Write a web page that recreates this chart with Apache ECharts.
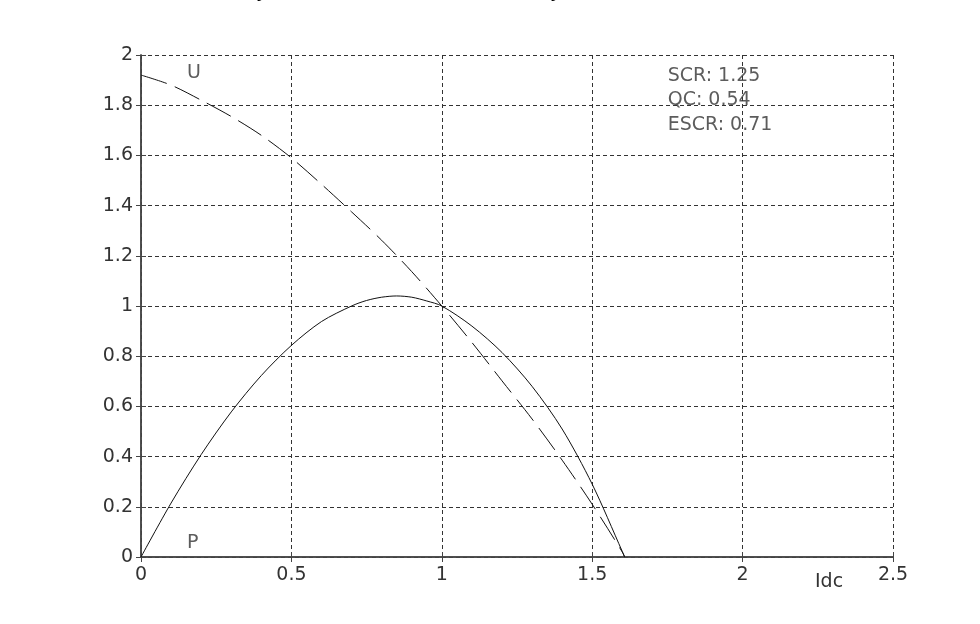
<!DOCTYPE html>
<html><head><meta charset="utf-8">
<script src="https://cdn.jsdelivr.net/npm/echarts@6/dist/echarts.min.js"></script>
<style>html,body{margin:0;padding:0;background:#fff}#c{width:980px;height:624px}</style>
</head><body><div id="c"></div>
<script>
// Data
var xTicks = [0, 0.5, 1, 1.5, 2, 2.5];
var yTicks = [0, 0.2, 0.4, 0.6, 0.8, 1, 1.2, 1.4, 1.6, 1.8, 2];
var uIdc = [0, 0.1, 0.2, 0.3, 0.4, 0.5, 0.6, 0.7, 0.8, 0.9, 1.0, 1.1, 1.2, 1.3, 1.4, 1.5, 1.6, 1.608];
var uVal = [1.92, 1.88, 1.82, 1.755, 1.68, 1.59, 1.485, 1.375, 1.262, 1.137, 1.0, 0.855, 0.702, 0.55, 0.386, 0.21, 0.02, 0.0];
var pIdc = [0, 0.1, 0.2, 0.3, 0.4, 0.5, 0.6, 0.7, 0.75, 0.8, 0.85, 0.9, 0.95, 1.0, 1.1, 1.2, 1.3, 1.4, 1.5, 1.6, 1.608];
var pVal = [0, 0.215, 0.408, 0.578, 0.723, 0.843, 0.938, 1.0, 1.022, 1.035, 1.04, 1.035, 1.02, 1.0, 0.92, 0.815, 0.68, 0.51, 0.29, 0.022, 0.0];
var notes = ['U', 'P', 'SCR: 1.25', 'QC: 0.54', 'ESCR: 0.71'];
var noteIdc = [0.153, 0.153, 1.751, 1.751, 1.751];
var noteVal = [1.93, 0.055, 1.918, 1.822, 1.722];
var xName = 'Idc';

function pairs(xs, ys) { return xs.map(function (x, i) { return [x, ys[i]]; }); }
var font = 'DejaVu Sans, Arial, sans-serif';
var chart = echarts.init(document.getElementById('c'), null, { renderer: 'canvas' });
var axisCommon = {
  type: 'value',
  axisLine: { show: true, lineStyle: { color: '#444', width: 1.5 } },
  axisTick: { show: true, inside: true, length: 5, lineStyle: { color: '#444' } }
};
chart.setOption({
  backgroundColor: '#fff',
  animation: false,
  grid: { left: 141, right: 87, top: 55, bottom: 67, containLabel: false },
  xAxis: [
    Object.assign({}, axisCommon, {
      min: xTicks[0], max: xTicks[xTicks.length - 1], interval: 0.5, position: 'bottom',
      axisLabel: { color: '#333', fontFamily: font, fontSize: 19, margin: 9 },
      splitLine: { show: true, lineStyle: { color: '#333', type: [4, 3], width: 1 } }
    }),
    Object.assign({}, axisCommon, {
      min: xTicks[0], max: xTicks[xTicks.length - 1], interval: 0.5, position: 'top',
      axisLabel: { show: false }, splitLine: { show: false }
    })
  ],
  yAxis: [
    Object.assign({}, axisCommon, {
      min: yTicks[0], max: yTicks[yTicks.length - 1], interval: 0.2, position: 'left',
      axisLabel: { color: '#333', fontFamily: font, fontSize: 19, margin: 8,
        formatter: function (v) { return String(Math.round(v * 10) / 10); } },
      splitLine: { show: true, lineStyle: { color: '#333', type: [4, 3], width: 1 } }
    }),
    Object.assign({}, axisCommon, {
      min: yTicks[0], max: yTicks[yTicks.length - 1], interval: 0.2, position: 'right',
      axisLabel: { show: false }, splitLine: { show: false }
    })
  ],
  series: [
    { type: 'line', name: 'U', data: pairs(uIdc, uVal), smooth: 0.3, symbol: 'none',
      lineStyle: { color: '#111', width: 1, type: [27, 9] }, z: 5 },
    { type: 'line', name: 'P', data: pairs(pIdc, pVal), smooth: 0.3, symbol: 'none',
      lineStyle: { color: '#111', width: 1 }, z: 5 },
    { type: 'scatter', symbolSize: 0, z: 6,
      data: notes.map(function (t, i) { return { value: [noteIdc[i], noteVal[i]], name: t }; }),
      label: { show: true, position: 'right', distance: 0, formatter: '{b}',
        color: '#333', fontFamily: font, fontSize: 19 } }
  ],
  graphic: [
    { type: 'text', left: 815, top: 573, style: { text: xName, fill: '#333', font: '19px ' + font } },
    { type: 'text', left: 257, top: -21, style: { text: 'y [11]', fill: '#000', font: '22px Liberation Serif' } },
    { type: 'text', left: 551, top: -21, style: { text: 'y', fill: '#000', font: '22px Liberation Serif' } }
  ]
});
</script></body></html>
